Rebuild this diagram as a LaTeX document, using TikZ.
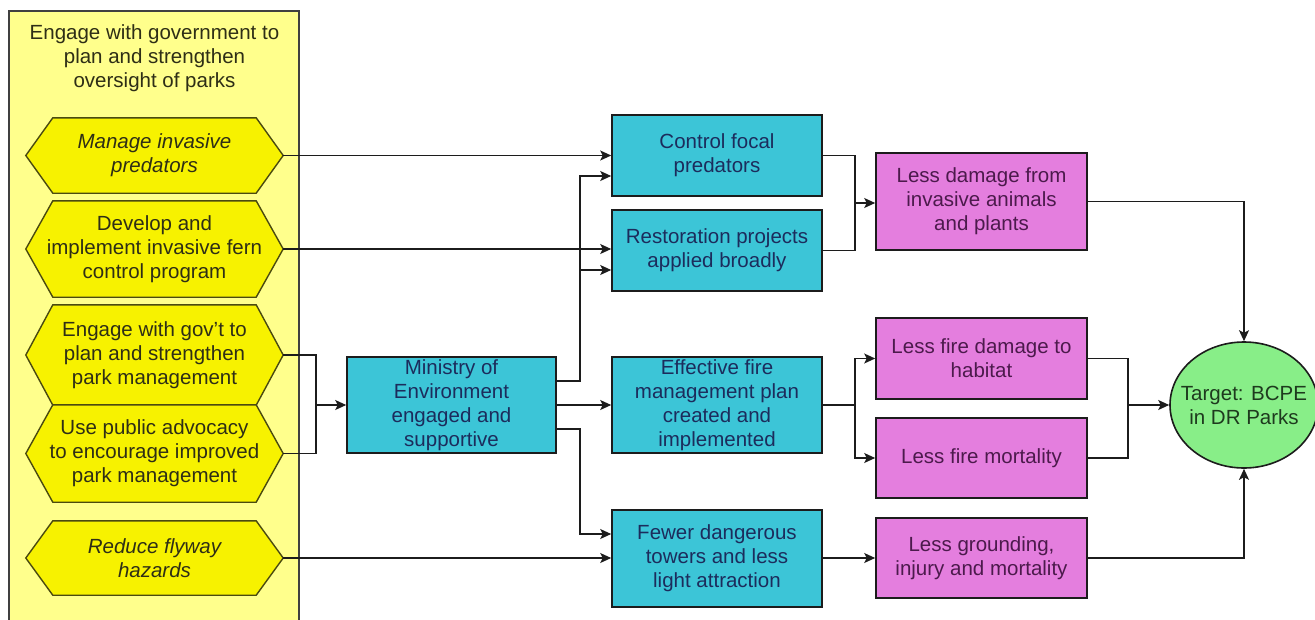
\documentclass[tikz,border=0pt]{standalone}
\usepackage{fontspec}
\setmainfont{Liberation Sans}
\usetikzlibrary{arrows.meta,shapes.geometric,backgrounds,calc}
\definecolor{panel}{HTML}{FFFF8C}
\definecolor{hexfill}{HTML}{F7F200}
\definecolor{hexline}{HTML}{4A4A10}
\definecolor{cyanfill}{HTML}{3CC5D7}
\definecolor{pinkfill}{HTML}{E47EDE}
\definecolor{greenfill}{HTML}{88EE88}
\definecolor{navytext}{HTML}{1C2C5C}
\definecolor{purpletext}{HTML}{4C1A4C}
\definecolor{olivetext}{HTML}{2E2E16}
\definecolor{greentext}{HTML}{1E3A1E}
\definecolor{linecol}{HTML}{1C1C1C}
\begin{document}
\begin{tikzpicture}[x=1pt,y=-1pt,
  every node/.style={font=\fontsize{20.5}{24}\selectfont, align=center, inner sep=0pt},
  hexnode/.style={minimum width=257pt, text=olivetext},
  itext/.style={font=\fontsize{20.5}{24}\selectfont\itshape},
  cbox/.style={draw=linecol, line width=1.6pt, fill=cyanfill, minimum width=210pt, text=navytext},
  pbox/.style={draw=linecol, line width=1.6pt, fill=pinkfill, minimum width=211pt, text=purpletext},
  arr/.style={draw=linecol, line width=1.6pt, -{Stealth[length=11pt,width=10pt,inset=2.5pt]}},
  wire/.style={draw=linecol, line width=1.6pt},
]
\useasboundingbox (0,0) rectangle (1315,619);

% left column
\node[text=olivetext] (title) at (154.5,58.5) {Engage with government to\\plan and strengthen\\oversight of parks};
\node[hexnode, itext, minimum height=75pt] (h1) at (154.5,155.5) {Manage invasive\\predators};
\node[hexnode, minimum height=96pt] (h2) at (154.5,249) {Develop and\\implement invasive fern\\control program};
\node[hexnode, minimum height=100pt] (h3) at (154.5,355) {Engage with gov't to\\plan and strengthen\\park management};
\node[hexnode, minimum height=97pt] (h4) at (154.5,453.5) {Use public advocacy\\to encourage improved\\park management};
\node[hexnode, itext, minimum height=74pt] (h5) at (154.5,558) {Reduce flyway\\hazards};

\begin{pgfonlayer}{background}
\draw[fill=panel, draw=gray!50!black, line width=1.3pt] (9,621) -- (9,11) -- (299,11) -- (299,621);
\foreach \n in {h1,h2,h3,h4,h5}
  \draw[hexline, fill=hexfill, line width=1.4pt] (\n.west) -- ([xshift=27pt]\n.north west) -- ([xshift=-27pt]\n.north east) -- (\n.east) -- ([xshift=-27pt]\n.south east) -- ([xshift=27pt]\n.south west) -- cycle;
\end{pgfonlayer}

% middle
\node[cbox, minimum width=209pt, minimum height=96pt] (min) at (451.5,405) {Ministry of\\Environment\\engaged and\\supportive};
\node[cbox, minimum height=81pt] (ctrl) at (717,155.5) {Control focal\\predators};
\node[cbox, minimum height=81pt] (rest) at (717,250.5) {Restoration projects\\applied broadly};
\node[cbox, minimum height=96pt] (fire) at (717,405) {Effective fire\\management plan\\created and\\implemented};
\node[cbox, minimum height=97pt] (tow) at (717,558.5) {Fewer dangerous\\towers and less\\light attraction};

% right
\node[pbox, minimum height=97pt] (ldam) at (981.5,201.5) {Less damage from\\invasive animals\\and plants};
\node[pbox, minimum height=81pt] (lfd) at (981.5,358.5) {Less fire damage to\\habitat};
\node[pbox, minimum height=80pt] (lfm) at (981.5,458) {Less fire mortality};
\node[pbox, minimum height=80pt] (lgr) at (981.5,558) {Less grounding,\\injury and mortality};
\node[ellipse, draw=linecol, line width=1.6pt, fill=greenfill, minimum width=148pt, minimum height=126pt] (tgt) at (1244,405) {};
\node[text=greentext] (tgtlabel) at (tgt.center) {Target: BCPE\\in DR Parks};

% connectors
\draw[arr] (h1.east) -- (h1.east -| ctrl.west);
\draw[arr] (h2.east) -- (h2.east -| rest.west);
\coordinate (mx) at ($(h3.east |- min.west)+(33,0)$);
\draw[wire] (h3.east) -| (mx) |- (h4.east);
\draw[arr] (mx) -- (min.west);

\draw[arr] ([yshift=24pt]min.east) -| ([xshift=-31pt,yshift=-20.5pt]ctrl.west) -- ([yshift=-20.5pt]ctrl.west);
\draw[arr] ([xshift=-31pt,yshift=-19.5pt]rest.west) -- ([yshift=-19.5pt]rest.west);
\draw[arr] (min.east) -- (fire.west);
\draw[arr] ([yshift=-24pt]min.east) -| ([xshift=-31pt,yshift=24.5pt]tow.west) -- ([yshift=24.5pt]tow.west);
\draw[arr] (h5.east) -- (h5.east -| tow.west);

\draw[wire] (ctrl.east) -- ++(32,0) |- (rest.east);
\coordinate (m1) at ($(ctrl.east)!.5!(rest.east)+(32,0)$);
\draw[arr] (m1) -- (m1 -| ldam.west);

\draw[arr] (fire.east) -- ++(32,0) |- (lfd.west);
\draw[arr] (fire.east) -- ++(32,0) |- (lfm.west);

\draw[wire] (lfd.east) -- ++(40,0) |- (lfm.east);
\coordinate (m2) at ($(lfd.east)!.5!(lfm.east)+(40,0)$);
\draw[arr] (m2 |- tgt.west) -- (tgt.west);

\draw[arr] (ldam.east) -| (tgt.north);
\draw[arr] (lgr.west -| tow.east) -- (lgr.west);
\draw[arr] (lgr.east) -| (tgt.south);
\end{tikzpicture}
\end{document}
